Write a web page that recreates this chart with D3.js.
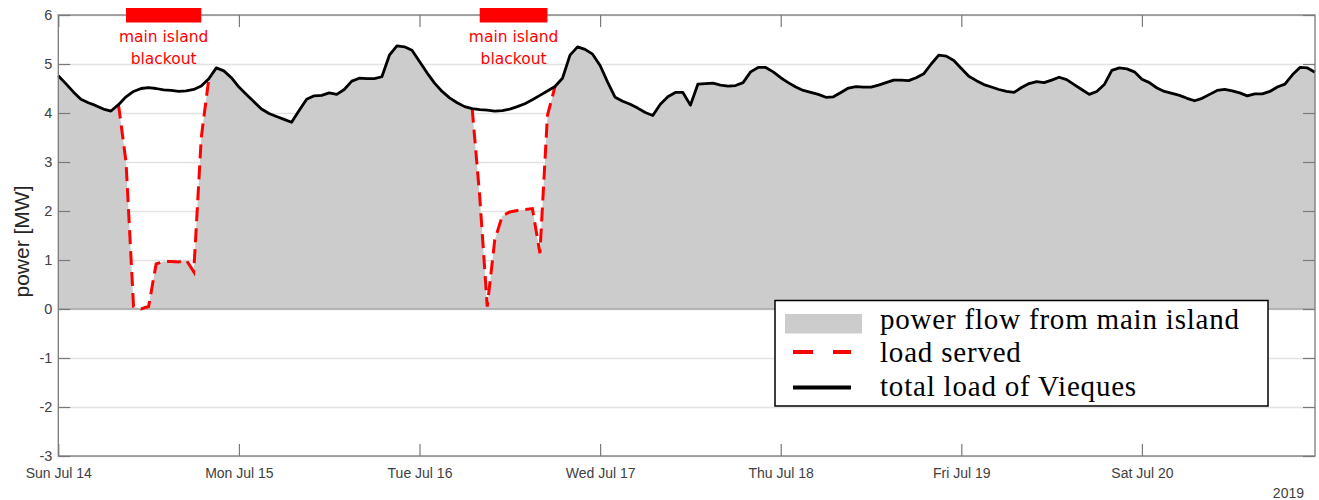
<!DOCTYPE html>
<html>
<head>
<meta charset="utf-8">
<script src="https://cdn.jsdelivr.net/npm/d3@7"></script>
<style>
  body { margin: 0; background: #fff; }
  #chart svg { display: block; }
</style>
</head>
<body>
<div id="chart"></div>
<script>
/* Vieques load and main island blackouts, 14-20 July 2019 (hourly) */

const startDay = new Date(2019, 6, 14);

// total load of Vieques [MW], one value per hour from Sun Jul 14 00:00
const totalLoad = [
  4.76, 4.60, 4.43, 4.28, 4.21, 4.15, 4.08, 4.04, 4.17, 4.33, 4.44, 4.50,
  4.52, 4.50, 4.47, 4.46, 4.44, 4.45, 4.48, 4.55, 4.70, 4.92, 4.86, 4.72,
  4.53, 4.38, 4.23, 4.08, 3.99, 3.93, 3.87, 3.81, 4.05, 4.28, 4.35, 4.36,
  4.41, 4.38, 4.48, 4.65, 4.71, 4.70, 4.70, 4.74, 5.18, 5.37, 5.35, 5.28,
  5.05, 4.82, 4.61, 4.44, 4.31, 4.21, 4.13, 4.09, 4.07, 4.06, 4.04, 4.05,
  4.08, 4.13, 4.19, 4.27, 4.36, 4.45, 4.54, 4.71, 5.18, 5.35, 5.30, 5.20,
  4.97, 4.63, 4.32, 4.24, 4.18, 4.10, 4.01, 3.95, 4.18, 4.33, 4.42, 4.42,
  4.16, 4.59, 4.60, 4.61, 4.57, 4.55, 4.56, 4.62, 4.84, 4.93, 4.93, 4.84,
  4.72, 4.62, 4.53, 4.46, 4.42, 4.38, 4.32, 4.33, 4.42, 4.51, 4.54, 4.53,
  4.53, 4.57, 4.62, 4.67, 4.67, 4.66, 4.72, 4.80, 5.00, 5.18, 5.16, 5.07,
  4.91, 4.75, 4.66, 4.58, 4.53, 4.48, 4.44, 4.42, 4.52, 4.60, 4.64, 4.62,
  4.67, 4.73, 4.68, 4.58, 4.48, 4.38, 4.44, 4.58, 4.87, 4.92, 4.90, 4.84,
  4.69, 4.62, 4.51, 4.44, 4.40, 4.36, 4.30, 4.25, 4.30, 4.38, 4.46, 4.48,
  4.45, 4.41, 4.35, 4.39, 4.39, 4.44, 4.53, 4.59, 4.78, 4.93, 4.92, 4.83
];

// load served during the two blackouts (hour index -> MW)
const servedHours1 = [9, 10, 11, 12, 13, 14, 15, 16, 17, 18, 19];
const servedVals1  = [3.0, 0.05, 0.0, 0.05, 0.92, 0.97, 0.97, 0.96, 1.0, 0.76, 3.5];
const servedHours2 = [56, 57, 58, 59, 60, 61, 62, 63, 64, 65];
const servedVals2  = [2.3, 0.05, 1.41, 1.90, 1.98, 2.01, 2.03, 2.05, 1.14, 3.95];

// main island blackout periods [start hour, end hour]
const blackoutStart = [9, 56];
const blackoutEnd   = [19, 65];

const dayTicks = [0, 1, 2, 3, 4, 5, 6];
const yTicks = [-3, -2, -1, 0, 1, 2, 3, 4, 5, 6];

const legendLabels = ["power flow from main island", "load served", "total load of Vieques"];

const width = 1319,
      height = 500,
      margin = ({top: 15, right: 4, bottom: 44, left: 58.3});

const hourDate = h => new Date(startDay.getTime() + h * 3600 * 1000);

let load = totalLoad.map((v, i) => ({t: hourDate(i), h: i, v: v}));
let served = load.map(d => ({t: d.t, h: d.h, v: d.v}));
servedHours1.forEach((h, i) => served[h].v = servedVals1[i]);
servedHours2.forEach((h, i) => served[h].v = servedVals2[i]);

// dashed line is only shown around the blackouts
const nearBlackout = h => (h >= blackoutStart[0] - 1 && h <= blackoutEnd[0] + 1) ||
                          (h >= blackoutStart[1] - 1 && h <= blackoutEnd[1] + 1);

let svg = d3.select("#chart")
    .append("svg")
    .attr("width", width)
    .attr("height", height)
    .attr("viewBox", [0, 0, width, height]);

let x = d3.scaleTime()
    .domain([hourDate(0), hourDate(totalLoad.length - 1)])
    .range([margin.left, width - margin.right]);

let y = d3.scaleLinear()
    .domain([-3, 6])
    .range([height - margin.bottom, margin.top]);

const x0 = margin.left, x1 = width - margin.right,
      y0 = height - margin.bottom, y1 = margin.top;

// grid
svg.append("g")
    .attr("transform", `translate(${x0},0)`)
    .call(d3.axisLeft(y).tickValues(yTicks).tickSize(-(x1 - x0)).tickFormat(""))
    .call(g => g.select(".domain").remove())
    .call(g => g.selectAll("line").attr("stroke", "#e3e3e3").attr("stroke-width", 1.5));

// gray area under load served
svg.append("path")
    .datum(served)
    .attr("fill", "#cccccc")
    .attr("d", d3.area()
        .x(d => x(d.t))
        .y0(y(0))
        .y1(d => y(d.v)));

svg.append("line")
    .attr("x1", x0).attr("x2", x1)
    .attr("y1", y(0)).attr("y2", y(0))
    .attr("stroke", "#a8a8a8")
    .attr("stroke-width", 1.5);

// load served (dashed)
svg.append("path")
    .datum(served)
    .attr("fill", "none")
    .attr("stroke", "#ff0000")
    .attr("stroke-width", 3)
    .attr("stroke-dasharray", "14,7")
    .attr("d", d3.line()
        .defined(d => nearBlackout(d.h))
        .x(d => x(d.t))
        .y(d => y(d.v)));

// total load
svg.append("path")
    .datum(load)
    .attr("fill", "none")
    .attr("stroke", "#000")
    .attr("stroke-width", 2.8)
    .attr("stroke-linejoin", "round")
    .attr("d", d3.line()
        .x(d => x(d.t))
        .y(d => y(d.v)));

// axes
const days = dayTicks.map(d => hourDate(d * 24));
const tickStyle = g => {
    g.select(".domain").remove();
    g.selectAll(".tick line").attr("stroke", "#7a7a7a").attr("stroke-width", 1.2);
    g.selectAll(".tick text").attr("fill", "#404040")
        .style("font-family", "'Liberation Sans', Arial, sans-serif");
};

svg.append("g")
    .attr("transform", `translate(0,${y0})`)
    .call(d3.axisBottom(x).tickValues(days).tickSizeInner(-12).tickSizeOuter(0)
        .tickPadding(12).tickFormat(d3.timeFormat("%a %b %d")))
    .call(tickStyle)
    .call(g => g.selectAll(".tick text").style("font-size", "14px"));

svg.append("g")
    .attr("transform", `translate(0,${y1})`)
    .call(d3.axisTop(x).tickValues(days).tickSizeInner(-12).tickSizeOuter(0).tickFormat(""))
    .call(tickStyle);

svg.append("g")
    .attr("transform", `translate(${x0},0)`)
    .call(d3.axisLeft(y).tickValues(yTicks).tickSizeInner(-12).tickSizeOuter(0).tickPadding(6)
        .tickFormat(d => String(d)))
    .call(tickStyle)
    .call(g => g.selectAll(".tick text").style("font-size", "14.5px"));

svg.append("g")
    .attr("transform", `translate(${x1},0)`)
    .call(d3.axisRight(y).tickValues(yTicks).tickSizeInner(-12).tickSizeOuter(0).tickFormat(""))
    .call(tickStyle);

svg.append("rect")
    .attr("x", x0).attr("y", y1)
    .attr("width", x1 - x0).attr("height", y0 - y1)
    .attr("fill", "none")
    .attr("stroke", "#7a7a7a")
    .attr("stroke-width", 1.3);

svg.append("text")
    .attr("x", 1304).attr("y", 498)
    .attr("text-anchor", "end")
    .attr("fill", "#404040")
    .style("font-family", "'Liberation Sans', Arial, sans-serif")
    .style("font-size", "14px")
    .text("2019");

svg.append("text")
    .attr("transform", `translate(29,${(y0 + y1) / 2 + 6}) rotate(-90)`)
    .attr("text-anchor", "middle")
    .attr("fill", "#262626")
    .style("font-family", "'Liberation Sans', Arial, sans-serif")
    .style("font-size", "21px")
    .text("power [MW]");

// blackout markers
blackoutStart.forEach((s, i) => {
    let xa = x(hourDate(s)), xb = x(hourDate(blackoutEnd[i]));
    svg.append("rect")
        .attr("x", xa).attr("y", 8)
        .attr("width", xb - xa).attr("height", 14.5)
        .attr("fill", "#ff0000");
    let lbl = svg.append("text")
        .attr("text-anchor", "middle")
        .attr("fill", "#ff0000")
        .style("font-family", "'DejaVu Sans', Verdana, sans-serif")
        .style("font-size", "15.5px");
    lbl.append("tspan").attr("x", (xa + xb) / 2).attr("y", 42).text("main island");
    lbl.append("tspan").attr("x", (xa + xb) / 2).attr("y", 63.5).text("blackout");
});

// legend
let legend = svg.append("g");
legend.append("rect")
    .attr("x", 775).attr("y", 300.5)
    .attr("width", 493).attr("height", 105.5)
    .attr("fill", "#fff")
    .attr("stroke", "#000")
    .attr("stroke-width", 1.5);
legend.append("rect")
    .attr("x", 785).attr("y", 314)
    .attr("width", 77).attr("height", 19.5)
    .attr("fill", "#cccccc");
legend.append("line")
    .attr("x1", 793).attr("x2", 851).attr("y1", 352).attr("y2", 352)
    .attr("stroke", "#ff0000").attr("stroke-width", 4)
    .attr("stroke-dasharray", "20,20");
legend.append("line")
    .attr("x1", 793).attr("x2", 851).attr("y1", 387.5).attr("y2", 387.5)
    .attr("stroke", "#000").attr("stroke-width", 4);
legend.selectAll(".lab")
    .data(legendLabels)
    .join("text")
    .attr("class", "lab")
    .attr("x", 880)
    .attr("y", (d, i) => [328.5, 361.5, 396][i])
    .attr("fill", "#000")
    .style("font-family", "'Liberation Serif', 'Times New Roman', serif")
    .style("font-size", "29px")
    .style("letter-spacing", "0.8px")
    .text(d => d);
</script>
</body>
</html>
